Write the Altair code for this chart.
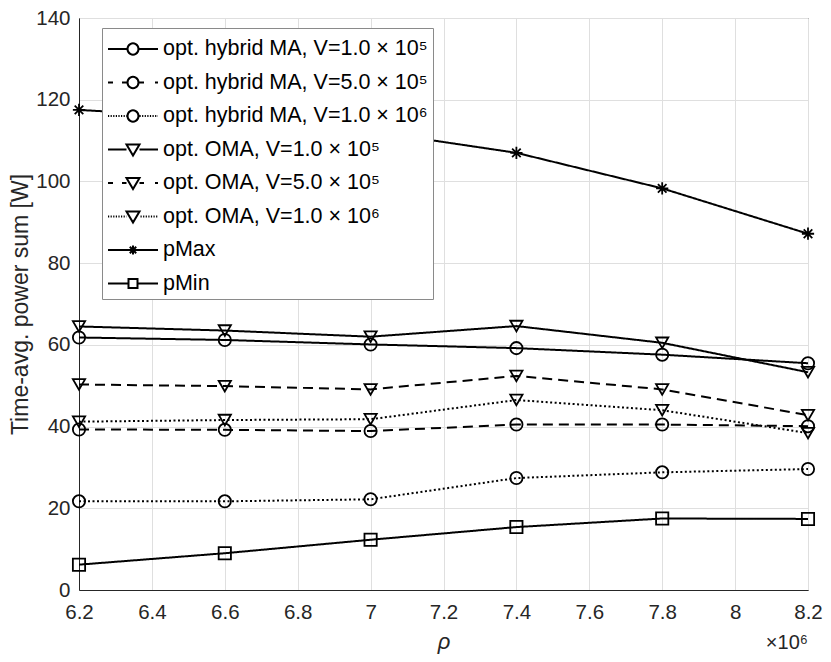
import altair as alt
import pandas as pd

rho = [6.2, 6.6, 7.0, 7.4, 7.8, 8.2]
series_names = [
    "opt. hybrid MA, V=1.0 × 10⁵",
    "opt. hybrid MA, V=5.0 × 10⁵",
    "opt. hybrid MA, V=1.0 × 10⁶",
    "opt. OMA, V=1.0 × 10⁵",
    "opt. OMA, V=5.0 × 10⁵",
    "opt. OMA, V=1.0 × 10⁶",
    "pMax",
    "pMin",
]
hyb_1e5 = [61.8, 61.2, 60.1, 59.2, 57.6, 55.5]
hyb_5e5 = [39.3, 39.2, 38.9, 40.5, 40.5, 40.1]
hyb_1e6 = [21.7, 21.7, 22.2, 27.4, 28.8, 29.6]
oma_1e5 = [64.5, 63.5, 62.0, 64.6, 60.5, 53.3]
oma_5e5 = [50.3, 49.9, 49.1, 52.4, 49.1, 42.8]
oma_1e6 = [41.2, 41.6, 41.8, 46.5, 44.0, 38.4]
pmax = [117.5, 115.5, 112.3, 107.0, 98.3, 87.2]
pmin = [6.2, 9.0, 12.3, 15.4, 17.5, 17.4]
x_ticks = [6.2, 6.4, 6.6, 6.8, 7.0, 7.2, 7.4, 7.6, 7.8, 8.0, 8.2]
y_ticks = [0, 20, 40, 60, 80, 100, 120, 140]

all_series = [hyb_1e5, hyb_5e5, hyb_1e6, oma_1e5, oma_5e5, oma_1e6, pmax, pmin]
rows = []
for name, vals in zip(series_names, all_series):
    for xv, yv in zip(rho, vals):
        rows.append({"rho": xv, "power": yv, "series": name})
df = pd.DataFrame(rows)

# styles
solid = [1, 0]
dashed = [10, 6]
dotted = [2, 2.5]
dash_range = [solid, dashed, dotted, solid, dashed, dotted, solid, solid]

asterisk = "M0,-1V1M-1,0H1M-0.7,-0.7L0.7,0.7M-0.7,0.7L0.7,-0.7"
shape_range = ["circle", "circle", "circle", "triangle-down", "triangle-down",
               "triangle-down", asterisk, "square"]
size_range = [150, 150, 150, 180, 180, 180, 70, 90]

# legend symbols (line sample + marker), drawn in px then mapped to Vega's unit box
SYM = 30.0          # sqrt(symbolSize)
U = SYM / 2
SW = 50.0           # sample width in px
MC = SW / 2         # marker centre


def P(x, y):
    return f"{(x - U) / U:.4f},{y / U:.4f}"


def seg(x0, x1):
    return f"M{P(x0, 0)}L{P(x1, 0)}"


def line_part(kind, gap):
    a, b = MC - gap, MC + gap
    if kind == "solid":
        return seg(0, a) + seg(b, SW)
    if kind == "dashed":
        return seg(0, 5) + seg(14, a) + seg(b, 36) + seg(47, 50)
    out = []
    x = 0.0
    while x < a:
        out.append(seg(x, min(x + 1.2, a)))
        x += 2.6
    x = b + 1
    while x < SW:
        out.append(seg(x, min(x + 1.2, SW)))
        x += 2.6
    return "".join(out)


rc = 5.5
circ = (f"M{P(MC + rc, 0)}A{rc / U:.4f},{rc / U:.4f} 0 1,1 {P(MC - rc, 0)}"
        f"A{rc / U:.4f},{rc / U:.4f} 0 1,1 {P(MC + rc, 0)}")
tri = f"M{P(MC - 6.5, -5)}L{P(MC + 6.5, -5)}L{P(MC, 6)}Z"
sq = f"M{P(MC - 4.5, -4.5)}L{P(MC + 4.5, -4.5)}L{P(MC + 4.5, 4.5)}L{P(MC - 4.5, 4.5)}Z"
ast = (f"M{P(MC, -4.5)}L{P(MC, 4.5)}M{P(MC - 4.5, 0)}L{P(MC + 4.5, 0)}"
       f"M{P(MC - 3.2, -3.2)}L{P(MC + 3.2, 3.2)}M{P(MC - 3.2, 3.2)}L{P(MC + 3.2, -3.2)}")
legend_paths = [
    line_part("solid", rc) + circ,
    line_part("dashed", rc) + circ,
    line_part("dotted", rc) + circ,
    line_part("solid", 6.5) + tri,
    line_part("dashed", 6.5) + tri,
    line_part("dotted", 6.5) + tri,
    line_part("solid", 3) + ast,
    line_part("solid", 4.5) + sq,
]

font = "Liberation Sans"
x_enc = alt.X("rho:Q", scale=alt.Scale(domain=[6.2, 8.2], nice=False, zero=False),
              axis=alt.Axis(values=x_ticks, title="ρ", titleFontStyle="italic",
                            titleFontSize=22,
                            labelExpr="format(datum.value, '.1~f')", labelFlush=False,
                            labelPadding=12, titlePadding=9))
y_enc = alt.Y("power:Q", scale=alt.Scale(domain=[0, 140], nice=False),
              axis=alt.Axis(values=y_ticks, title="Time-avg. power sum [W]",
                            labelFlush=False, labelPadding=9, titlePadding=3))

lines = alt.Chart(df).mark_line(color="black", strokeWidth=2).encode(
    x=x_enc, y=y_enc,
    strokeDash=alt.StrokeDash("series:N", scale=alt.Scale(domain=series_names, range=dash_range),
                              legend=None),
    detail="series:N",
)

points = alt.Chart(df).mark_point(filled=False, color="black", strokeWidth=1.8, opacity=1).encode(
    x=x_enc, y=y_enc,
    shape=alt.Shape("series:N", scale=alt.Scale(domain=series_names, range=shape_range), legend=None),
    size=alt.Size("series:N", scale=alt.Scale(domain=series_names, range=size_range), legend=None),
)

legend_layer = alt.Chart(df).transform_filter("false").mark_point(
    filled=False, color="black", strokeWidth=2, opacity=1
).encode(
    x=x_enc, y=y_enc,
    shape=alt.Shape("series:N", scale=alt.Scale(domain=series_names, range=legend_paths),
                    legend=alt.Legend(title=None, orient="none", legendX=23, legendY=10,
                                      symbolSize=SYM * SYM, labelFontSize=21.5, labelFont=font,
                                      labelColor="black", labelLimit=400,
                                      labelOffset=SW - SYM + 4,
                                      fillColor="white", strokeColor="#8a8a8a", padding=5,
                                      rowPadding=6.5, symbolStrokeWidth=2,
                                      symbolStrokeColor="black")),
)

chart = alt.layer(lines, points, legend_layer).resolve_scale(
    shape="independent", size="independent"
).properties(
    width=729, height=572,
    autosize=alt.AutoSizeParams(type="none"),
    padding={"left": 71, "top": 10, "right": 15, "bottom": 64},
    title=alt.TitleParams("×10⁶", orient="bottom", anchor="end", frame="group", fontSize=20,
                          fontWeight="normal", font=font, color="#262626", offset=-20, dx=0),
).configure_view(
    stroke="#262626", strokeWidth=1
).configure_axis(
    labelFont=font, titleFont=font, labelFontSize=20.5, titleFontSize=23,
    titleFontWeight="normal", labelColor="#262626", titleColor="#262626",
    domainColor="#262626", gridColor="#dfdfdf", ticks=False,
)

chart.save("out.html", embed_options={"renderer": "svg", "actions": False})
